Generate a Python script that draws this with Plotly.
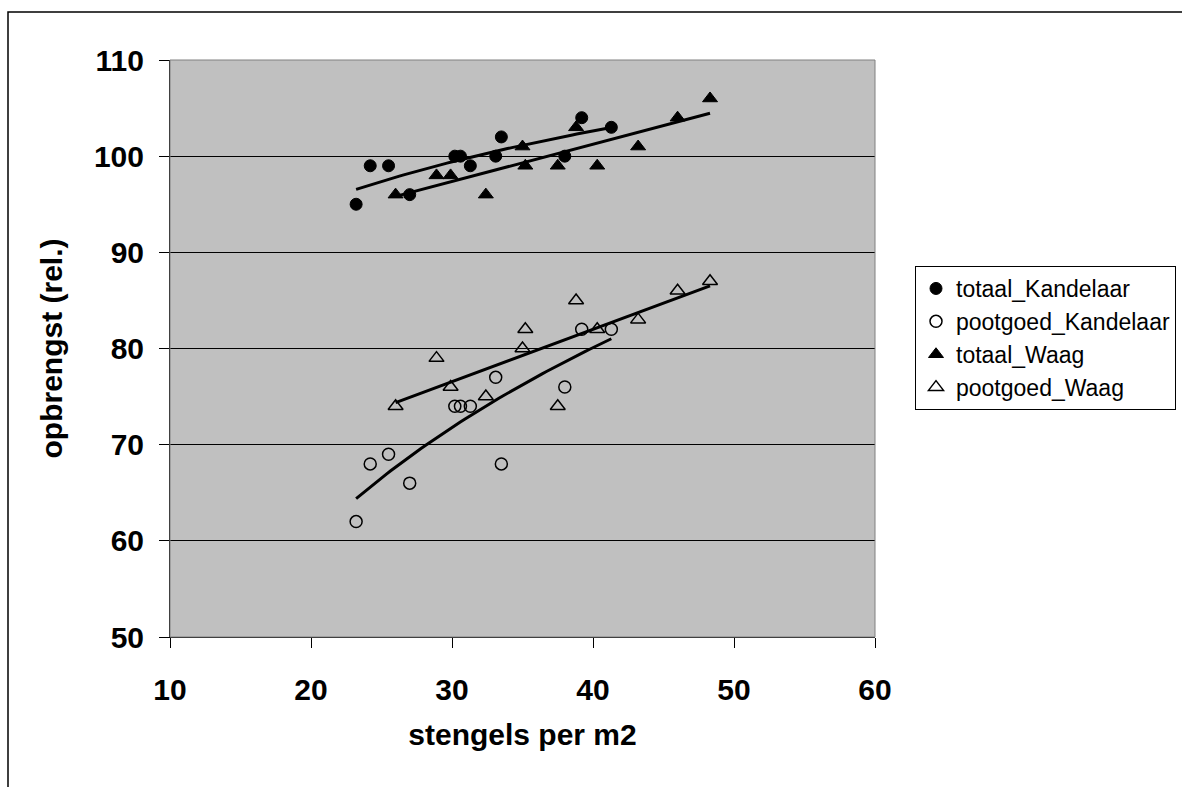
import numpy as np
import plotly.graph_objects as go

# Data
x_kandelaar = [23.2, 24.2, 25.5, 27.0, 30.2, 30.6, 31.3, 33.1, 33.5, 38.0, 39.2, 41.3]
totaal_kandelaar = [95, 99, 99, 96, 100, 100, 99, 100, 102, 100, 104, 103]
pootgoed_kandelaar = [62, 68, 69, 66, 74, 74, 74, 77, 68, 76, 82, 82]

x_waag = [26.0, 28.9, 29.9, 32.4, 35.0, 35.2, 37.5, 38.8, 40.3, 43.2, 46.0, 48.3]
totaal_waag = [96, 98, 98, 96, 101, 99, 99, 103, 99, 101, 104, 106]
pootgoed_waag = [74, 79, 76, 75, 80, 82, 74, 85, 82, 83, 86, 87]

x_ticks = [10, 20, 30, 40, 50, 60]
y_ticks = [50, 60, 70, 80, 90, 100, 110]

FONT = "Liberation Sans, Arial, sans-serif"


def log_fit(xs, ys):
    xs = np.array(xs, float)
    ys = np.array(ys, float)
    b, a = np.polyfit(np.log(xs), ys, 1)
    xx = np.linspace(xs.min(), xs.max(), 60)
    return xx, a + b * np.log(xx)


def lin_fit(xs, ys):
    xs = np.array(xs, float)
    ys = np.array(ys, float)
    b, a = np.polyfit(xs, ys, 1)
    xx = np.array([xs.min(), xs.max()])
    return xx, a + b * xx


fig = go.Figure()

# trendlines
for xs, ys, fn in [
    (x_kandelaar, totaal_kandelaar, log_fit),
    (x_kandelaar, pootgoed_kandelaar, log_fit),
    (x_waag, totaal_waag, lin_fit),
    (x_waag, pootgoed_waag, lin_fit),
]:
    xx, yy = fn(xs, ys)
    fig.add_trace(go.Scatter(x=xx, y=yy, mode="lines", line=dict(color="black", width=3),
                             showlegend=False, hoverinfo="skip"))

fig.add_trace(go.Scatter(x=x_kandelaar, y=totaal_kandelaar, mode="markers", name="totaal_Kandelaar",
                         marker=dict(symbol="circle", size=12, color="black", line=dict(color="black", width=1))))
fig.add_trace(go.Scatter(x=x_kandelaar, y=pootgoed_kandelaar, mode="markers", name="pootgoed_Kandelaar",
                         marker=dict(symbol="circle-open", size=12, color="black", line=dict(color="black", width=1.5))))
fig.add_trace(go.Scatter(x=x_waag, y=totaal_waag, mode="markers", name="totaal_Waag",
                         marker=dict(symbol="triangle-up", size=13, color="black", line=dict(color="black", width=1))))
fig.add_trace(go.Scatter(x=x_waag, y=pootgoed_waag, mode="markers", name="pootgoed_Waag",
                         marker=dict(symbol="triangle-up-open", size=13, color="black", line=dict(color="black", width=1.5))))

L, R, T, B = 170, 875, 60, 637
W, H = 1182, 787
pw, ph = R - L, B - T


def px(xp):
    return (xp - L) / pw


def py(yp):
    return (B - yp) / ph


fig.update_layout(
    width=W, height=H,
    margin=dict(l=L, r=W - R, t=T, b=H - B, pad=0, autoexpand=False),
    paper_bgcolor="white",
    plot_bgcolor="#C0C0C0",
    font=dict(family=FONT, color="black"),
    showlegend=True,
    legend=dict(
        x=px(915), y=py(266), xanchor="left", yanchor="top",
        bgcolor="white", bordercolor="black", borderwidth=1,
        font=dict(family=FONT, size=23, color="black"),
        itemsizing="trace", tracegroupgap=0, itemwidth=30,
    ),
    xaxis=dict(
        range=[10, 60], tickvals=x_ticks, showgrid=False, zeroline=False,
        showline=True, linecolor="black", linewidth=1, mirror=False,
        ticks="outside", ticklen=10, tickcolor="black", ticklabelstandoff=16,
        tickfont=dict(family=FONT, size=30, color="black", weight="bold"),
        title=dict(text="<b>stengels per m2</b>", font=dict(family=FONT, size=30), standoff=18),
    ),
    yaxis=dict(
        range=[50, 110], tickvals=y_ticks, showgrid=True, gridcolor="black", gridwidth=1,
        zeroline=False, showline=True, linecolor="black", linewidth=1,
        ticks="outside", ticklen=10, tickcolor="black", ticklabelstandoff=9,
        tickfont=dict(family=FONT, size=30, color="black", weight="bold"),
        title=dict(text="<b>opbrengst (rel.)</b>", font=dict(family=FONT, size=30), standoff=22),
    ),
    shapes=[
        dict(type="rect", xref="paper", yref="paper", x0=0, x1=1, y0=0, y1=1,
             line=dict(color="#808080", width=1), fillcolor="rgba(0,0,0,0)", layer="above"),
        dict(type="rect", xref="paper", yref="paper", x0=px(8), x1=px(1200), y0=py(800), y1=py(12),
             line=dict(color="black", width=1.5), fillcolor="rgba(0,0,0,0)", layer="below"),
    ],
)

fig.write_html("out.html")
